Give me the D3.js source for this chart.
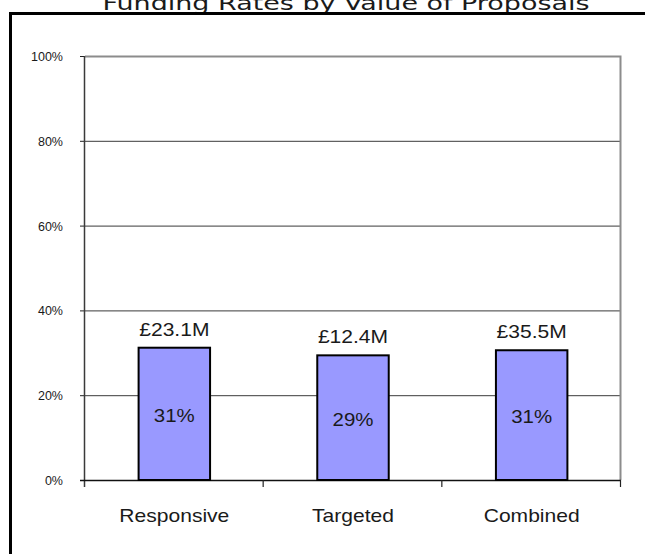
<!DOCTYPE html>
<html>
<head>
<meta charset="utf-8">
<script src="https://cdn.jsdelivr.net/npm/d3@7"></script>
<style>
  body { margin: 0; background: #fff; }
  svg { display: block; }
  text { font-family: "Liberation Sans", Arial, sans-serif; fill: #1a1a1a; }
</style>
</head>
<body>
<div id="chart"></div>
<script>
"use strict";

const categories = ["Responsive", "Targeted", "Combined"];
const rates = [0.312, 0.294, 0.306];
const rateLabels = ["31%", "29%", "31%"];
const valueLabels = ["£23.1M", "£12.4M", "£35.5M"];
const yTicks = [0, 0.2, 0.4, 0.6, 0.8, 1.0];
const title = "Funding Rates by Value of Proposals";

const width = 645, height = 554;
const margin = {top: 56, right: 24, bottom: 74, left: 85};
const w = width - margin.left - margin.right;
const h = height - margin.top - margin.bottom;
const stretch = 1.17; // the old chart's text is a bit wider than plain Arial

const svg = d3.select("#chart").append("svg").attr("width", width).attr("height", height);

// title, cut off at the top
svg.append("text").attr("x", 346).attr("y", 9.5).attr("text-anchor", "middle")
  .style("font-family", "'DejaVu Sans', Verdana, sans-serif").style("font-size", "20px")
  .attr("textLength", 487).attr("lengthAdjust", "spacingAndGlyphs")
  .text(title);

// outer frame, runs off the right and bottom of the picture
svg.append("rect").attr("x", 10.5).attr("y", 13.5).attr("width", 700).attr("height", 600)
  .attr("fill", "none").attr("stroke", "#000").attr("stroke-width", 3);

const g = svg.append("g").attr("transform", "translate(" + margin.left + "," + margin.top + ")");

const x = d3.scaleBand().domain(categories).range([0, w]).paddingInner(0.6).paddingOuter(0.3);
const y = d3.scaleLinear().domain([0, 1]).range([h, 0]);

// gridlines
g.append("g").selectAll("line").data(yTicks.filter(d => d > 0 && d < 1)).enter().append("line")
  .attr("x1", 0).attr("x2", w).attr("y1", d => y(d) + 0.5).attr("y2", d => y(d) + 0.5)
  .attr("stroke", "#3a3a3a").attr("stroke-width", 1);

// plot box top and right (gray)
g.append("path").attr("d", "M0," + (y(1) + 0.5) + "H" + (w - 0.5) + "V" + h)
  .attr("fill", "none").attr("stroke", "#8c8c8c").attr("stroke-width", 2);

// y axis
const yAxis = g.append("g").call(d3.axisLeft(y).tickValues(yTicks).tickFormat(d3.format(".0%")).tickSize(5).tickPadding(17));
yAxis.select(".domain").remove();
yAxis.selectAll(".tick line").attr("stroke", "#222");
yAxis.selectAll(".tick text").style("font-size", "12.5px").attr("dy", "0.36em").attr("fill", "#1a1a1a");
g.append("line").attr("x1", -0.5).attr("x2", -0.5).attr("y1", y(1)).attr("y2", h + 7)
  .attr("stroke", "#3a3a3a").attr("stroke-width", 1.5);

// x axis line and ticks at category boundaries
g.append("line").attr("x1", -5).attr("x2", w).attr("y1", h + 0.5).attr("y2", h + 0.5)
  .attr("stroke", "#111").attr("stroke-width", 1.5);
const bounds = categories.map(c => x(c) - x.step() * x.paddingInner() / 2).concat([w]);
g.append("g").selectAll("line").data(bounds.slice(1)).enter().append("line")
  .attr("x1", d => d - 0.5).attr("x2", d => d - 0.5).attr("y1", h).attr("y2", h + 7)
  .attr("stroke", "#222").attr("stroke-width", 1.2);

function wideText(sel, size) {
  return sel.attr("text-anchor", "middle").style("font-size", size + "px");
}

g.append("g").selectAll("text").data(categories).enter().append("text")
  .attr("transform", d => "translate(" + (x(d) + x.bandwidth() / 2) + "," + (h + 42) + ") scale(" + stretch + ",1)")
  .call(wideText, 18).attr("fill", "#222").text(d => d);

// bars
g.append("g").selectAll("rect").data(rates).enter().append("rect")
  .attr("x", (d, i) => x(categories[i])).attr("y", d => y(d))
  .attr("width", x.bandwidth()).attr("height", d => h - y(d))
  .attr("fill", "#9999ff").attr("stroke", "#000").attr("stroke-width", 2);

// rate labels inside bars
g.append("g").selectAll("text").data(rates).enter().append("text")
  .attr("transform", (d, i) => "translate(" + (x(categories[i]) + x.bandwidth() / 2) + "," + ((y(d) + h) / 2 + 8) + ") scale(" + stretch + ",1)")
  .call(wideText, 17.5).attr("fill", "#1a1a2a").text((d, i) => rateLabels[i]);

// value labels above bars
g.append("g").selectAll("text").data(rates).enter().append("text")
  .attr("transform", (d, i) => "translate(" + (x(categories[i]) + x.bandwidth() / 2) + "," + (y(d) - 12) + ") scale(" + stretch + ",1)")
  .call(wideText, 18).attr("fill", "#1a1a1a").text((d, i) => valueLabels[i]);
</script>
</body>
</html>
